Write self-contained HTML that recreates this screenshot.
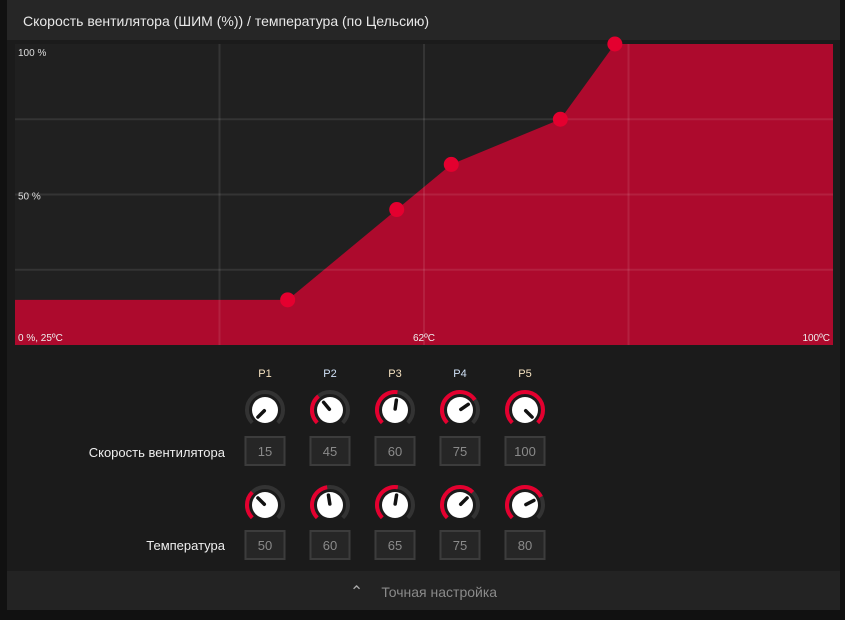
<!DOCTYPE html>
<html><head><meta charset="utf-8"><style>
body{margin:0;width:845px;height:620px;background:#111;overflow:hidden;font-family:"Liberation Sans","Noto Sans CJK SC",sans-serif;}
#panel{position:absolute;left:7px;top:0;width:833px;height:610px;background:#1b1b1b;border-radius:0 0 3px 3px;}
#title{position:absolute;left:0;top:0;width:833px;height:40px;background:#262626;color:#e8e8e8;font-size:14px;line-height:42px;padding-left:16px;box-sizing:border-box;}
#bottom{position:absolute;left:0;top:571px;width:833px;height:39px;background:#232323;color:#8a8a8a;font-size:14px;line-height:42px;text-align:center;}
svg text{font-family:"Liberation Sans",sans-serif;}
</style></head><body>
<div id="panel">
<div id="title">Скорость вентилятора (ШИМ (%)) / температура (по Цельсию)</div>
<div id="bottom"><span style="font-size:16px;margin-right:18px;color:#aaa">&#8963;</span>Точная настройка</div>
</div>
<svg id="svg" width="845" height="620" style="position:absolute;left:0;top:0" xmlns="http://www.w3.org/2000/svg"></svg>
<script>
const temps=[50,60,65,75,80];
const speeds=[15,45,60,75,100];
const pointLabels=['P1','P2','P3','P4','P5'];
const xTickLabels=['0 %, 25ºC','62ºC','100ºC'];
const yTickLabels=['100 %','50 %'];
const NS='http://www.w3.org/2000/svg';
const svg=document.getElementById('svg');
const X0=15,X1=833,Y0=345,Y1=44,TMIN=25,TMAX=100;
const xs=t=>X0+(t-TMIN)/(TMAX-TMIN)*(X1-X0);
const ys=v=>Y0-v/100*(Y0-Y1);
function mk(tag,attrs,parent){const e=document.createElementNS(NS,tag);for(const k in attrs)e.setAttribute(k,attrs[k]);(parent||svg).appendChild(e);return e;}
let bg=mk('rect',{x:X0,y:Y1,width:X1-X0,height:Y0-Y1,fill:'#202020'});


let d='M'+X0+','+Y0+' L'+X0+','+ys(speeds[0]);
temps.forEach((t,i)=>{d+=' L'+xs(t)+','+ys(speeds[i]);});
d+=' L'+X1+','+ys(speeds[speeds.length-1])+' L'+X1+','+Y0+' Z';
let area=mk('path',{d:d,fill:'#ad0a2d'});


[0.25,0.5,0.75].forEach(f=>{
 let g=mk('line',{x1:X0+f*(X1-X0),x2:X0+f*(X1-X0),y1:Y1,y2:Y0,stroke:'rgba(255,255,255,0.09)','stroke-width':2});
 
 
 let h=mk('line',{x1:X0,x2:X1,y1:Y1+f*(Y0-Y1),y2:Y1+f*(Y0-Y1),stroke:'rgba(255,255,255,0.09)','stroke-width':2});
 
 
});
temps.forEach((t,i)=>{
 let c=mk('circle',{cx:xs(t),cy:ys(speeds[i]),r:7.5,fill:'#e4002f'});
 
 
});
const tl=[[18,ys(100)+12,'start'],[18,ys(50)+5,'start']];
yTickLabels.forEach((s,i)=>{let t=mk('text',{x:tl[i][0],y:tl[i][1],fill:'#ddd','font-size':10});t.textContent=s;
 
 });
const xt=[[18,'start'],[424,'middle'],[830,'end']];
xTickLabels.forEach((s,i)=>{let t=mk('text',{x:xt[i][0],y:341,fill:'#eee','font-size':10,'text-anchor':xt[i][1]});t.textContent=s;
 
 });
const KX=[265,330,395,460,525];
function arcPath(cx,cy,r,a0,a1){const p=a=>[cx+r*Math.sin(a*Math.PI/180),cy-r*Math.cos(a*Math.PI/180)];const s=p(a0),e=p(a1);const large=(a1-a0)>180?1:0;return 'M'+s[0]+','+s[1]+' A'+r+','+r+' 0 '+large+' 1 '+e[0]+','+e[1];}
function knob(cx,cy,f,name){
 const ang=-135+270*f;
 let g=mk('g',{});
 
 
 mk('path',{d:arcPath(cx,cy,18,-135,135),stroke:'#333',fill:'none','stroke-width':4},g);
 if(f>0.005)mk('path',{d:arcPath(cx,cy,18,-135,ang),stroke:'#e4002f',fill:'none','stroke-width':4},g);
 mk('circle',{cx:cx,cy:cy,r:13,fill:'#fff'},g);
 const a=ang*Math.PI/180;
 mk('line',{x1:cx+1*Math.sin(a),y1:cy-1*Math.cos(a),x2:cx+10*Math.sin(a),y2:cy-10*Math.cos(a),stroke:'#111','stroke-width':3.5,'stroke-linecap':'round'},g);
}
function box(cx,y,val,name){
 let r=mk('rect',{x:cx-19.5,y:y,width:39,height:28,fill:'#262626',stroke:'#3c3c3c','stroke-width':2});
 
 
 let t=mk('text',{x:cx,y:y+19,fill:'#8a8a8a','font-size':13,'text-anchor':'middle'});t.textContent=val;
 
 
}
pointLabels.forEach((p,i)=>{
 let t=mk('text',{x:KX[i],y:377,fill:i%2?'#cfe0f5':'#f5e2c0','font-size':11,'text-anchor':'middle'});t.textContent=p;
 
 
 knob(KX[i],410,(speeds[i]-15)/85,'speed-knob-'+p.toLowerCase());
 box(KX[i],437,speeds[i],'speed-input-'+p.toLowerCase());
 knob(KX[i],505,(temps[i]-TMIN)/(TMAX-TMIN),'temp-knob-'+p.toLowerCase());
 box(KX[i],531,temps[i],'temp-input-'+p.toLowerCase());
});
let l1=mk('text',{x:225,y:457,fill:'#eee','font-size':13,'text-anchor':'end'});l1.textContent='Скорость вентилятора';


let l2=mk('text',{x:225,y:550,fill:'#eee','font-size':13,'text-anchor':'end'});l2.textContent='Температура';


</script>
</body></html>
